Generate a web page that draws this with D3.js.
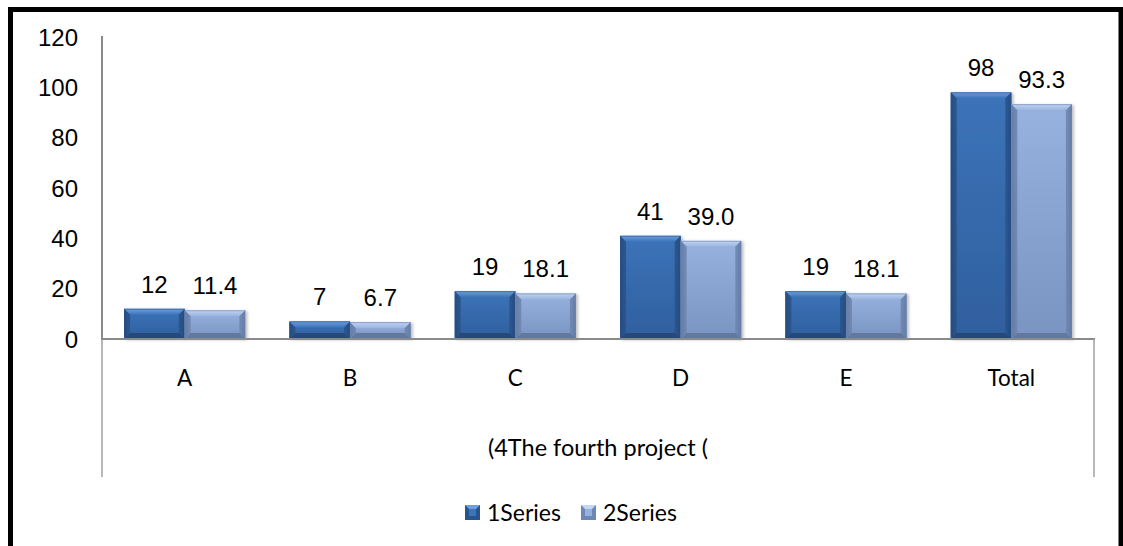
<!DOCTYPE html>
<html>
<head>
<meta charset="utf-8">
<script src="https://cdn.jsdelivr.net/npm/d3@7"></script>
<style>
  html, body { margin: 0; padding: 0; background: #fff; }
  svg { display: block; }
</style>
</head>
<body>
<svg id="chart" width="1123" height="546"></svg>
<script>
const categories = ["A", "B", "C", "D", "E", "Total"];
const series1 = [12, 7, 19, 41, 19, 98];
const series2 = [11.4, 6.7, 18.1, 39.0, 18.1, 93.3];
const series1Labels = ["12", "7", "19", "41", "19", "98"];
const series2Labels = ["11.4", "6.7", "18.1", "39.0", "18.1", "93.3"];
const seriesNames = ["1Series", "2Series"];
const yTicks = [0, 20, 40, 60, 80, 100, 120];
const axisTitle = "(4The fourth project (";

const svg = d3.select("#chart");

const plot = { left: 102, right: 1094, top: 37, bottom: 339 };
const tableBottom = 477;

const x = d3.scaleBand().domain(categories).range([plot.left, plot.right]).paddingInner(0).paddingOuter(0);
const y = d3.scaleLinear().domain([0, 120]).range([plot.bottom, plot.top]);

const groupW = x.bandwidth() * 0.733;
const x1 = d3.scaleBand().domain([0, 1]).range([0, groupW]);

// bevel styling for each series
const styles = [
  { top: "#6f9fdc", face0: "#3c73b9", face1: "#2f5f9e", side: "#2a548c", bottom: "#25497a", edge: "#2b548a" },
  { top: "#c3d6f2", face0: "#97b2df", face1: "#7a94c2", side: "#6f87b3", bottom: "#62799f", edge: "#6c82ad" }
];

const defs = svg.append("defs");
styles.forEach((s, i) => {
  const g = defs.append("linearGradient").attr("id", "face" + i)
    .attr("x1", 0).attr("y1", 0).attr("x2", 0).attr("y2", 1);
  g.append("stop").attr("offset", "0%").attr("stop-color", s.face0);
  g.append("stop").attr("offset", "100%").attr("stop-color", s.face1);
  const gs = defs.append("linearGradient").attr("id", "sideL" + i)
    .attr("x1", 0).attr("y1", 0).attr("x2", 1).attr("y2", 0);
  gs.append("stop").attr("offset", "0%").attr("stop-color", s.bottom);
  gs.append("stop").attr("offset", "100%").attr("stop-color", s.side);
  const gr = defs.append("linearGradient").attr("id", "sideR" + i)
    .attr("x1", 0).attr("y1", 0).attr("x2", 1).attr("y2", 0);
  gr.append("stop").attr("offset", "0%").attr("stop-color", s.side);
  gr.append("stop").attr("offset", "100%").attr("stop-color", s.bottom);
  const gt = defs.append("linearGradient").attr("id", "top" + i)
    .attr("x1", 0).attr("y1", 0).attr("x2", 0).attr("y2", 1);
  gt.append("stop").attr("offset", "0%").attr("stop-color", s.top);
  gt.append("stop").attr("offset", "100%").attr("stop-color", s.face0);
});

const shadow = defs.append("filter").attr("id", "shadow").attr("x", "-10%").attr("y", "-10%").attr("width", "130%").attr("height", "130%");
shadow.append("feGaussianBlur").attr("in", "SourceAlpha").attr("stdDeviation", 1.5).attr("result", "b");
shadow.append("feOffset").attr("in", "b").attr("dx", 2).attr("dy", 1).attr("result", "o");
shadow.append("feComponentTransfer").attr("in", "o").attr("result", "t")
  .append("feFuncA").attr("type", "linear").attr("slope", 0.25);
const merge = shadow.append("feMerge");
merge.append("feMergeNode").attr("in", "t");
merge.append("feMergeNode").attr("in", "SourceGraphic");

// beveled bar
function drawBar(g, bx, by, bw, bh, si) {
  const s = styles[si];
  const b = Math.min(6, bh / 2, bw / 2);
  const bar = g.append("g").attr("filter", "url(#shadow)");
  bar.append("rect").attr("x", bx).attr("y", by).attr("width", bw).attr("height", bh)
    .attr("fill", `url(#face${si})`);
  const pts = (arr) => arr.map(p => p.join(",")).join(" ");
  // top bevel
  bar.append("polygon").attr("points", pts([[bx, by], [bx + bw, by], [bx + bw - b, by + b], [bx + b, by + b]]))
    .attr("fill", `url(#top${si})`);
  // left bevel
  bar.append("polygon").attr("points", pts([[bx, by], [bx + b, by + b], [bx + b, by + bh - b], [bx, by + bh]]))
    .attr("fill", `url(#sideL${si})`).attr("opacity", 0.9);
  // right bevel
  bar.append("polygon").attr("points", pts([[bx + bw, by], [bx + bw, by + bh], [bx + bw - b, by + bh - b], [bx + bw - b, by + b]]))
    .attr("fill", `url(#sideR${si})`).attr("opacity", 0.9);
  // bottom bevel
  bar.append("polygon").attr("points", pts([[bx, by + bh], [bx + b, by + bh - b], [bx + bw - b, by + bh - b], [bx + bw, by + bh]]))
    .attr("fill", s.bottom);
  bar.append("rect").attr("x", bx + 0.5).attr("y", by + 0.5).attr("width", bw - 1).attr("height", bh - 1)
    .attr("fill", "none").attr("stroke", s.edge).attr("stroke-width", 1).attr("opacity", 0.6);
}

const numFont = "'Liberation Sans', Arial, sans-serif";
const txtFont = "Lato, 'Open Sans', sans-serif";

// y tick labels
svg.append("g").selectAll("text").data(yTicks).join("text")
  .attr("x", 78).attr("y", d => y(d)).attr("dy", "0.36em")
  .attr("text-anchor", "end").attr("font-family", numFont).attr("font-size", 24)
  .attr("fill", "#000").text(d => d);

// bars
const barsG = svg.append("g");
[series1, series2].forEach((vals, si) => {
  vals.forEach((v, i) => {
    const bx = x(categories[i]) + (x.bandwidth() - groupW) / 2 + x1(si);
    const by = y(v);
    drawBar(barsG, bx, by, x1.bandwidth(), y(0) - by, si);
  });
});

// value labels
const labG = svg.append("g");
[[series1, series1Labels], [series2, series2Labels]].forEach(([vals, labs], si) => {
  labG.selectAll(null).data(vals).join("text")
    .attr("x", (v, i) => x(categories[i]) + (x.bandwidth() - groupW) / 2 + x1(si) + x1.bandwidth() / 2)
    .attr("y", v => y(v) - 16)
    .attr("text-anchor", "middle").attr("font-family", numFont).attr("font-size", 24)
    .attr("fill", "#000").text((v, i) => labs[i]);
});

// axis lines
const axisColor = "#8a8a8a";
svg.append("line").attr("x1", plot.left).attr("x2", plot.left).attr("y1", plot.top - 1).attr("y2", plot.bottom)
  .attr("stroke", axisColor).attr("stroke-width", 2);
svg.append("line").attr("x1", plot.left).attr("x2", plot.left).attr("y1", plot.bottom).attr("y2", tableBottom)
  .attr("stroke", "#a0a0a0").attr("stroke-width", 1.5);
svg.append("line").attr("x1", plot.left - 1).attr("x2", plot.right + 1).attr("y1", plot.bottom).attr("y2", plot.bottom)
  .attr("stroke", axisColor).attr("stroke-width", 2);
svg.append("line").attr("x1", plot.right).attr("x2", plot.right).attr("y1", plot.bottom).attr("y2", tableBottom)
  .attr("stroke", "#a0a0a0").attr("stroke-width", 1.5);

// category labels
svg.append("g").selectAll("text").data(categories).join("text")
  .attr("x", d => x(d) + x.bandwidth() / 2).attr("y", 386)
  .attr("text-anchor", "middle").attr("font-family", txtFont).attr("font-size", 22.5)
  .attr("fill", "#000").text(d => d);

// axis title
svg.append("text").attr("x", (plot.left + plot.right) / 2).attr("y", 456)
  .attr("text-anchor", "middle").attr("font-family", txtFont).attr("font-size", 23.5)
  .attr("fill", "#000").text(axisTitle);

// legend
const legend = svg.append("g");
const legendX = [465, 581];
seriesNames.forEach((name, si) => {
  const s = styles[si];
  const lx = legendX[si], ly = 505, ls = 15;
  const lg = legend.append("g");
  lg.append("rect").attr("x", lx).attr("y", ly).attr("width", ls).attr("height", ls).attr("fill", s.side);
  lg.append("polygon").attr("points", `${lx},${ly} ${lx + ls},${ly} ${lx + ls - 4},${ly + 4} ${lx + 4},${ly + 4}`).attr("fill", s.top);
  lg.append("rect").attr("x", lx + 4).attr("y", ly + 4).attr("width", ls - 8).attr("height", ls - 8).attr("fill", s.face0);
  lg.append("text").attr("x", lx + 22).attr("y", ly + ls + 1).attr("font-family", txtFont).attr("font-size", 23)
    .attr("fill", "#000").text(name);
});

// outer frame
svg.append("rect").attr("x", 10.5).attr("y", 9.5).attr("width", 1110.5).attr("height", 600)
  .attr("fill", "none").attr("stroke", "#000").attr("stroke-width", 5);
</script>
</body>
</html>
